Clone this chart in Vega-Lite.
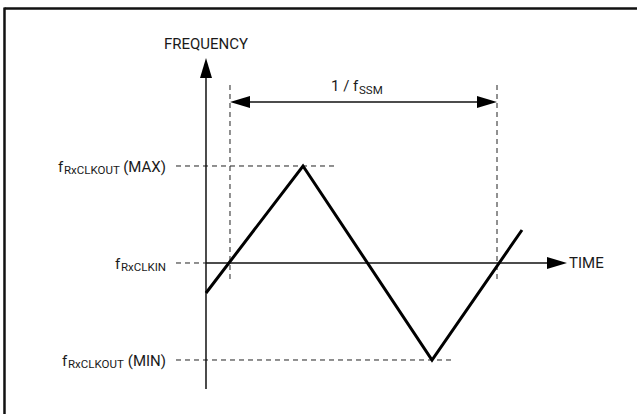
{
  "$schema": "https://vega.github.io/schema/vega-lite/v6.json",
  "width": 637,
  "height": 414,
  "autosize": {"type": "none"},
  "padding": 0,
  "background": "white",
  "config": {"view": {"stroke": null}, "font": "Roboto"},
  "datasets": {
    "frame": [
      {"t": -0.8446, "f": 2.6237, "t2": 1.5243, "f2": 2.6237},
      {"t": -0.8446, "f": 2.6340, "t2": -0.8446, "f2": -1.5567}
    ],
    "axes": [
      {"t": -0.0899, "f": -1.299, "t2": -0.0899, "f2": 1.99},
      {"t": -0.0899, "f": 0, "t2": 1.2247, "f2": 0},
      {"t": 0.0375, "f": 1.6598, "t2": 0.9625, "f2": 1.6598}
    ],
    "dashed": [
      {"t": -0.2022, "f": 1, "t2": 0.397, "f2": 1},
      {"t": -0.2022, "f": 0, "t2": -0.0899, "f2": 0},
      {"t": -0.2022, "f": -1, "t2": 0.8427, "f2": -1},
      {"t": 0, "f": 1.835, "t2": 0, "f2": -0.1856},
      {"t": 1, "f": 1.835, "t2": 1, "f2": -0.175}
    ],
    "wave": [
      {"t": -0.0899, "f": -0.309},
      {"t": 0.2734, "f": 1.0},
      {"t": 0.7566, "f": -1.0},
      {"t": 1.0936, "f": 0.34}
    ],
    "arrows": [
      {"t": -0.0899, "f": 2.0103, "dir": "up"},
      {"t": 1.2247, "f": 0, "dir": "right"},
      {"t": 0.03745, "f": 1.6598, "dir": "left"},
      {"t": 0.9625, "f": 1.6598, "dir": "right"}
    ],
    "bigLeft": [
      {"t": 0.3783, "f": 1.773, "label": "1 / f"},
      {"t": 1.2697, "f": -0.0567, "label": "TIME"},
      {"t": -0.6442, "f": 0.933, "label": "f"},
      {"t": -0.4307, "f": -0.067, "label": "f"},
      {"t": -0.6292, "f": -1.067, "label": "f"}
    ],
    "bigRight": [
      {"t": -0.2397, "f": 0.933, "label": "(MAX)"},
      {"t": -0.2397, "f": -1.067, "label": "(MIN)"}
    ],
    "bigCenter": [
      {"t": -0.0899, "f": 2.206, "label": "FREQUENCY"}
    ],
    "small": [
      {"t": 0.4831, "f": 1.742, "label": "SSM"},
      {"t": -0.6217, "f": 0.9175, "label": "RxCLKOUT"},
      {"t": -0.4082, "f": -0.0825, "label": "RxCLKIN"},
      {"t": -0.6067, "f": -1.0825, "label": "RxCLKOUT"}
    ]
  },
  "layer": [
    {
      "data": {"name": "frame"},
      "mark": {"type": "rule", "color": "#111", "strokeWidth": 2.5},
      "encoding": {
        "x": {"field": "t", "type": "quantitative", "scale": {"domain": [-0.86142, 1.52434], "nice": false, "zero": false}, "axis": null},
        "y": {"field": "f", "type": "quantitative", "scale": {"domain": [-1.5567, 2.7113], "nice": false, "zero": false}, "axis": null},
        "x2": {"field": "t2"},
        "y2": {"field": "f2"}
      }
    },
    {
      "data": {"name": "dashed"},
      "mark": {"type": "rule", "color": "#222", "strokeWidth": 1, "strokeDash": [5, 4]},
      "encoding": {
        "x": {"field": "t", "type": "quantitative", "scale": {"domain": [-0.86142, 1.52434], "nice": false, "zero": false}, "axis": null},
        "y": {"field": "f", "type": "quantitative", "scale": {"domain": [-1.5567, 2.7113], "nice": false, "zero": false}, "axis": null},
        "x2": {"field": "t2"},
        "y2": {"field": "f2"}
      }
    },
    {
      "data": {"name": "axes"},
      "mark": {"type": "rule", "color": "#111", "strokeWidth": 1.5},
      "encoding": {
        "x": {"field": "t", "type": "quantitative", "scale": {"domain": [-0.86142, 1.52434], "nice": false, "zero": false}, "axis": null},
        "y": {"field": "f", "type": "quantitative", "scale": {"domain": [-1.5567, 2.7113], "nice": false, "zero": false}, "axis": null},
        "x2": {"field": "t2"},
        "y2": {"field": "f2"}
      }
    },
    {
      "data": {"name": "wave"},
      "mark": {"type": "line", "color": "#000", "strokeWidth": 3, "strokeJoin": "miter"},
      "encoding": {
        "x": {"field": "t", "type": "quantitative", "scale": {"domain": [-0.86142, 1.52434], "nice": false, "zero": false}, "axis": null},
        "y": {"field": "f", "type": "quantitative", "scale": {"domain": [-1.5567, 2.7113], "nice": false, "zero": false}, "axis": null},
        "order": {"field": "t", "type": "quantitative"}
      }
    },
    {
      "data": {"name": "arrows"},
      "mark": {"type": "point", "filled": true, "opacity": 1, "color": "#000", "size": 400},
      "encoding": {
        "x": {"field": "t", "type": "quantitative", "scale": {"domain": [-0.86142, 1.52434], "nice": false, "zero": false}, "axis": null},
        "y": {"field": "f", "type": "quantitative", "scale": {"domain": [-1.5567, 2.7113], "nice": false, "zero": false}, "axis": null},
        "shape": {
          "field": "dir", "type": "nominal", "legend": null,
          "scale": {"domain": ["up", "left", "right"], "range": ["M0,-1L0.6,1L-0.6,1Z", "M-1,0L1,-0.6L1,0.6Z", "M1,0L-1,-0.6L-1,0.6Z"]}
        }
      }
    },
    {
      "data": {"name": "bigLeft"},
      "mark": {"type": "text", "align": "left", "baseline": "alphabetic", "fontSize": 15, "color": "#1a1a1a", "font": "Roboto"},
      "encoding": {
        "x": {"field": "t", "type": "quantitative", "scale": {"domain": [-0.86142, 1.52434], "nice": false, "zero": false}, "axis": null},
        "y": {"field": "f", "type": "quantitative", "scale": {"domain": [-1.5567, 2.7113], "nice": false, "zero": false}, "axis": null},
        "text": {"field": "label"}
      }
    },
    {
      "data": {"name": "bigRight"},
      "mark": {"type": "text", "align": "right", "baseline": "alphabetic", "fontSize": 15, "color": "#1a1a1a", "font": "Roboto"},
      "encoding": {
        "x": {"field": "t", "type": "quantitative", "scale": {"domain": [-0.86142, 1.52434], "nice": false, "zero": false}, "axis": null},
        "y": {"field": "f", "type": "quantitative", "scale": {"domain": [-1.5567, 2.7113], "nice": false, "zero": false}, "axis": null},
        "text": {"field": "label"}
      }
    },
    {
      "data": {"name": "bigCenter"},
      "mark": {"type": "text", "align": "center", "baseline": "alphabetic", "fontSize": 15, "color": "#1a1a1a", "font": "Roboto"},
      "encoding": {
        "x": {"field": "t", "type": "quantitative", "scale": {"domain": [-0.86142, 1.52434], "nice": false, "zero": false}, "axis": null},
        "y": {"field": "f", "type": "quantitative", "scale": {"domain": [-1.5567, 2.7113], "nice": false, "zero": false}, "axis": null},
        "text": {"field": "label"}
      }
    },
    {
      "data": {"name": "small"},
      "mark": {"type": "text", "align": "left", "baseline": "alphabetic", "fontSize": 11.5, "color": "#1a1a1a", "font": "Roboto"},
      "encoding": {
        "x": {"field": "t", "type": "quantitative", "scale": {"domain": [-0.86142, 1.52434], "nice": false, "zero": false}, "axis": null},
        "y": {"field": "f", "type": "quantitative", "scale": {"domain": [-1.5567, 2.7113], "nice": false, "zero": false}, "axis": null},
        "text": {"field": "label"}
      }
    }
  ]
}
